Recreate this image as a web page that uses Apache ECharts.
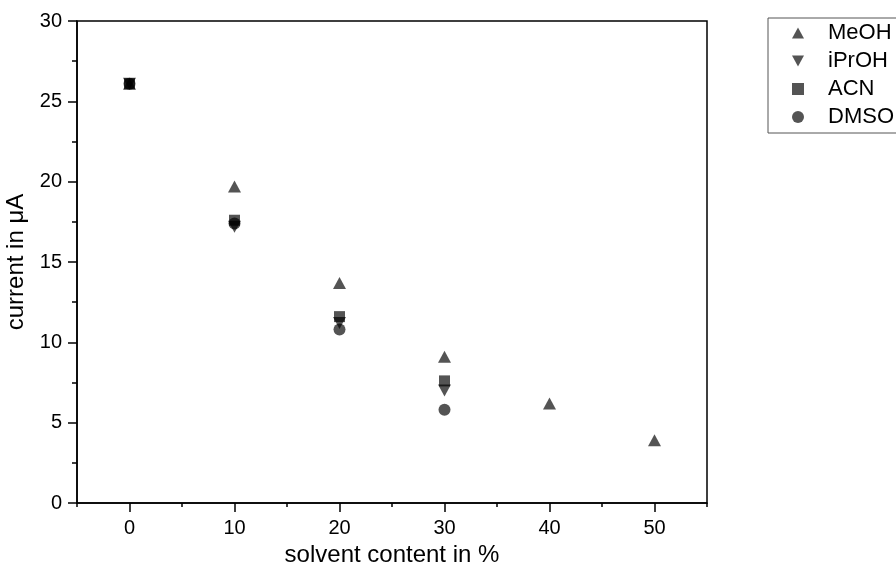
<!DOCTYPE html>
<html>
<head>
<meta charset="utf-8">
<script src="https://cdn.jsdelivr.net/npm/echarts@6/dist/echarts.min.js"></script>
<style>
html,body{margin:0;padding:0;background:#fff;}
#chart{width:896px;height:573px;}
</style>
</head>
<body>
<div id="chart"></div>
<script>
var seriesNames = ['MeOH', 'iPrOH', 'ACN', 'DMSO'];
var xMeOH = [0, 10, 20, 30, 40, 50];
var yMeOH = [26.1, 19.7, 13.7, 9.1, 6.2, 3.9];
var xIPrOH = [0, 10, 20, 30];
var yIPrOH = [26.1, 17.2, 11.2, 7.0];
var xACN = [0, 10, 20, 30];
var yACN = [26.1, 17.6, 11.6, 7.6];
var xDMSO = [0, 10, 20, 30];
var yDMSO = [26.1, 17.4, 10.8, 5.8];
var xMajorTicks = [0, 10, 20, 30, 40, 50];
var xMinorTicks = [-5, 5, 15, 25, 35, 45, 55];

function pairs(xs, ys) { return xs.map(function (x, i) { return [x, ys[i]]; }); }

var font = "'Liberation Sans', Arial, sans-serif";
var markColor = 'rgba(0,0,0,0.84)';
var upTri = 'path://M5,0 L10,9 L0,9 Z';
var downTri = 'path://M0,0 L10,0 L5,9 Z';

var chart = echarts.init(document.getElementById('chart'));
chart.setOption({
  animation: false,
  backgroundColor: '#fff',
  textStyle: { fontFamily: font },
  grid: { left: 77, top: 21, right: 189, bottom: 70, show: true, borderColor: '#000', borderWidth: 1.5, containLabel: false, outerBoundsMode: 'none' },
  legend: {
    left: 768, top: 18, orient: 'vertical',
    padding: [4, 60, 5, 24],
    itemWidth: 12, itemHeight: 12, itemGap: 6,
    borderColor: '#555', borderWidth: 1,
    textStyle: { fontSize: 22, fontFamily: font, color: '#000', padding: [0, 0, 0, 19] },
    data: seriesNames
  },
  xAxis: [{
    type: 'value', min: -5, max: 55, position: 'bottom',
    name: 'solvent content in %', nameLocation: 'middle', nameGap: 33,
    nameTextStyle: { fontSize: 24, color: '#000', fontFamily: font },
    axisLine: { show: true, onZero: false, lineStyle: { color: '#000', width: 1.5 } },
    axisTick: { show: true, inside: false, length: 9, customValues: xMajorTicks, lineStyle: { color: '#000', width: 1.5 } },
    axisLabel: { show: true, customValues: xMajorTicks, fontSize: 20, margin: 15, color: '#000', fontFamily: font },
    splitLine: { show: false }
  }, {
    type: 'value', min: -5, max: 55, position: 'bottom', gridIndex: 0,
    axisLine: { show: false, onZero: false },
    axisTick: { show: true, inside: false, length: 4, customValues: xMinorTicks, lineStyle: { color: '#000', width: 1.5 } },
    axisLabel: { show: false },
    splitLine: { show: false }
  }],
  yAxis: {
    type: 'value', min: 0, max: 30, interval: 5,
    name: 'current in μA', nameLocation: 'middle', nameGap: 41,
    nameTextStyle: { fontSize: 24, color: '#000', fontFamily: font },
    axisLine: { show: true, onZero: false, lineStyle: { color: '#000', width: 1.5 } },
    axisTick: { show: true, inside: false, length: 9, lineStyle: { color: '#000', width: 1.5 } },
    minorTick: { show: true, splitNumber: 2, length: 5, lineStyle: { color: '#000', width: 1.5 } },
    axisLabel: { fontSize: 20, margin: 15, color: '#000', fontFamily: font },
    splitLine: { show: false }
  },
  series: [
    { name: 'MeOH', type: 'scatter', symbol: upTri, symbolSize: [13, 12], itemStyle: { color: markColor }, data: pairs(xMeOH, yMeOH) },
    { name: 'iPrOH', type: 'scatter', symbol: downTri, symbolSize: [13, 12], itemStyle: { color: markColor }, data: pairs(xIPrOH, yIPrOH) },
    { name: 'ACN', type: 'scatter', symbol: 'rect', symbolSize: 11, itemStyle: { color: markColor }, data: pairs(xACN, yACN) },
    { name: 'DMSO', type: 'scatter', symbol: 'circle', symbolSize: 12, itemStyle: { color: markColor }, data: pairs(xDMSO, yDMSO) }
  ]
});
</script>
</body>
</html>
